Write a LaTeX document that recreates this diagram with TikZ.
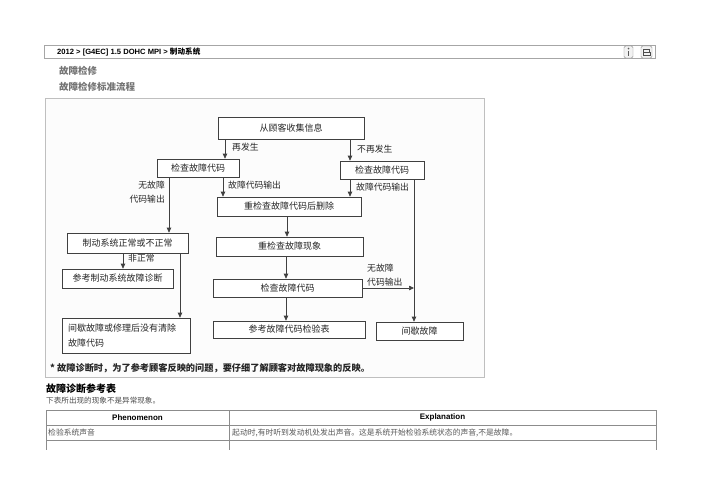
\documentclass[tikz,border=0pt]{standalone}
\usepackage{fontspec}
\setmainfont{Liberation Sans}
\newfontfamily\cjk{Noto Sans CJK SC}
\usetikzlibrary{arrows.meta,positioning}

\begin{document}
\begin{tikzpicture}[x=1pt,y=-1pt,arr/.style={draw=black!75,line width=0.7pt,-{Triangle[length=5pt,width=4.5pt]}}]%
        \useasboundingbox[fill=white] (0,0) rectangle (702,496); %%
        % page header
        \draw[black!35,fill=white] (44,45) rectangle (655,58); %%
        \node[anchor=west,inner sep=0pt,font=\bfseries\fontsize{7.6}{9}\selectfont] (path) at (57,51.5) {2012 > [G4EC] 1.5 DOHC MPI > {\cjk\bfseries 制动系统}}; %%
        \draw[black!45,fill=black!5,rounded corners=1.5pt] (624,46) rectangle (633,58); %%
        \fill[black!65] (627.7,50.5) rectangle (629.3,55.5); %%
        \fill[black!65] (628.5,48.6) circle (0.9); %%
        \draw[black!45,fill=black!5,rounded corners=1.5pt] (641,46) rectangle (652,58); %%
        \draw[black!70,line width=0.6pt] (643.5,49.5) rectangle (649.5,52); %%
        \draw[black!70,line width=0.6pt] (643,52) rectangle (650,55.5); %%
        \node[anchor=west,inner sep=0pt,text=black!55,font=\cjk\bfseries\fontsize{9.5}{11}\selectfont] (ttl1) at (59,71) {故障检修}; %%
        \node[anchor=west,inner sep=0pt,text=black!55,font=\cjk\bfseries\fontsize{9.5}{11}\selectfont] (ttl2) at (59,87) {故障检修标准流程}; %%
        \draw[black!25,fill=black!1] (45,98) rectangle (484,377); %%
        \begin{scope}
            \tikzstyle{every node}=[draw=black!75,line width=0.7pt,inner sep=0pt,fill=white,text=black!85,font=\cjk\fontsize{9}{15}\selectfont];%%
            \node[minimum width=146pt,minimum height=22pt] (ask) at (291,128) {从顾客收集信息}; %%
            \node[minimum width=82pt,minimum height=18pt] (chkl) at (198,168) {检查故障代码}; %%
            \node[minimum width=84pt,minimum height=18pt] (chkr) at (382,170) {检查故障代码}; %%
            \node[minimum width=144pt,minimum height=19pt] (clr) at (289,206.5) {重检查故障代码后删除}; %%
            \node[minimum width=121pt,minimum height=20pt] (brk) at (127.5,243) {制动系统正常或不正常}; %%
            \node[minimum width=111pt,minimum height=19pt] (diag) at (117.5,278.5) {参考制动系统故障诊断}; %%
            \node[minimum width=128pt,minimum height=35pt,text width=116pt,align=left] (intc) at (126,335.5) {间歇故障或修理后没有清除\\故障代码}; %%
            \node[minimum width=147pt,minimum height=19pt] (sym) at (289.5,246.5) {重检查故障现象}; %%
            \node[minimum width=149pt,minimum height=18pt] (chkm) at (287.5,288) {检查故障代码}; %%
            \node[minimum width=152pt,minimum height=17pt] (tab) at (289,329.5) {参考故障代码检验表}; %%
            \node[minimum width=87pt,minimum height=18pt] (intm) at (419.5,331) {间歇故障}; %%
        \end{scope}
        \begin{scope}
            \tikzstyle{every node}=[inner sep=0pt,text=black!85,font=\cjk\fontsize{8.8}{14}\selectfont];%%
            \node[anchor=west] (again) at (232,147) {再发生}; %%
            \node[anchor=west] (noagain) at (357,149) {不再发生}; %%
            \node[anchor=west] (outl) at (228,185) {故障代码输出}; %%
            \node[anchor=west] (outr) at (356,187) {故障代码输出}; %%
            \node[anchor=east,align=right] (nonel) at (165,192) {无故障\\代码输出}; %%
            \node[anchor=west] (abn) at (128,258) {非正常}; %%
            \node[anchor=west,align=left] (nonem) at (367,275) {无故障\\代码输出}; %%
        \end{scope}
        \coordinate (rl) at ([xshift=32pt]chkr.south); %%
        \draw[arr] ([xshift=27pt]chkl.north |- ask.south) -- ([xshift=27pt]chkl.north); %%
        \draw[arr] ([xshift=-32pt]chkr.north |- ask.south) -- ([xshift=-32pt]chkr.north); %%
        \draw[arr] ([xshift=25pt]chkl.south) -- ([xshift=25pt]chkl.south |- clr.north); %%
        \draw[arr] ([xshift=-29pt]chkl.south) -- ([xshift=-29pt]chkl.south |- brk.north); %%
        \draw[arr] ([xshift=-32pt]chkr.south) -- ([xshift=-32pt]chkr.south |- clr.north); %%
        \draw[arr] (rl) -- (rl |- intm.north); %%
        \draw[arr] ([xshift=-2pt]clr.south) -- ([xshift=-2pt]clr.south |- sym.north); %%
        \draw[arr] ([xshift=-3.5pt]sym.south) -- ([xshift=-3.5pt]sym.south |- chkm.north); %%
        \draw[arr] ([xshift=-1.5pt]chkm.south) -- ([xshift=-1.5pt]chkm.south |- tab.north); %%
        \draw[arr] (chkm.east) -- (chkm.east -| rl); %%
        \draw[arr] ([xshift=-4.5pt]brk.south) -- ([xshift=-4.5pt]brk.south |- diag.north); %%
        \draw[arr] ([xshift=52.5pt]brk.south) -- ([xshift=52.5pt]brk.south |- intc.north); %%
        \node[anchor=west,inner sep=0pt,text=black!85,font=\cjk\bfseries\fontsize{9.2}{11}\selectfont] (note) at (50,368) {* 故障诊断时，为了参考顾客反映的问题，要仔细了解顾客对故障现象的反映。}; %%
        % reference table
        \node[anchor=west,inner sep=0pt,font=\cjk\bfseries\fontsize{10}{12}\selectfont] (sec) at (46,389) {故障诊断参考表}; %%
        \node[anchor=west,inner sep=0pt,text=black!70,font=\cjk\fontsize{7.6}{9}\selectfont] (sub) at (46,401) {下表所出现的现象不是异常现象。}; %%
        \draw[black!45,line width=1pt] (46,410) -- (656,410) (46,425) -- (656,425) (46,440) -- (656,440); %%
        \draw[black!45,line width=1pt] (46,410) -- (46,450) (229,410) -- (229,450) (656,410) -- (656,450); %%
        \node[inner sep=0pt,font=\bfseries\fontsize{8}{9}\selectfont] (phen) at (137.5,417.5) {Phenomenon}; %%
        \node[inner sep=0pt,font=\bfseries\fontsize{8}{9}\selectfont] (expl) at (442.5,417.5) {Explanation}; %%
        \node[anchor=west,inner sep=0pt,text=black!65,font=\cjk\fontsize{7.8}{9}\selectfont] (snd) at (48,432.5) {检验系统声音}; %%
        \node[anchor=west,inner sep=0pt,text=black!65,font=\cjk\fontsize{7.8}{9}\selectfont] (sndx) at (232,432.5) {起动时,有时听到发动机处发出声音。这是系统开始检验系统状态的声音,不是故障。}; %%
\end{tikzpicture}
\end{document}
